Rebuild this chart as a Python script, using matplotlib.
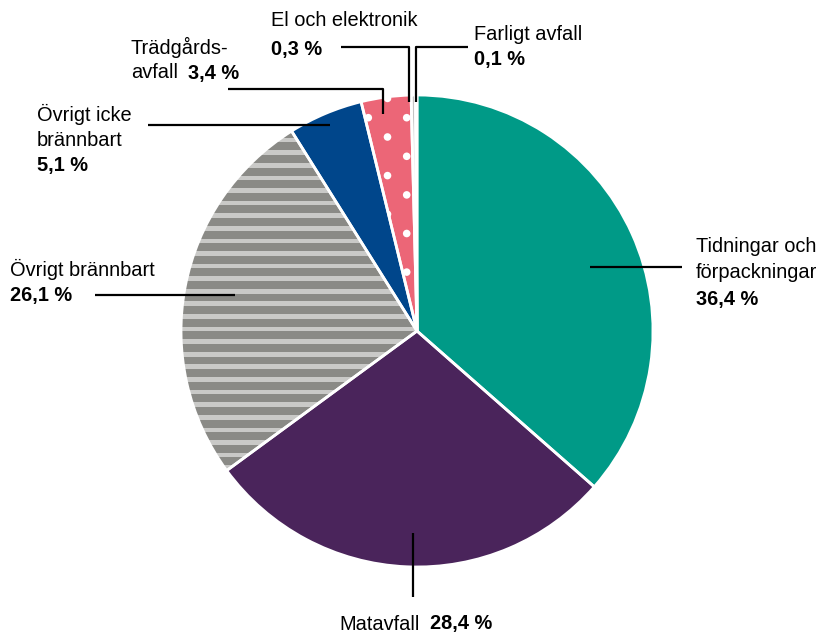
import matplotlib
matplotlib.use('Agg')
import matplotlib.pyplot as plt
from matplotlib.patches import Rectangle, Circle
import numpy as np

plt.rcParams['font.family'] = ['Liberation Sans', 'DejaVu Sans']

categories = ['Tidningar och förpackningar', 'Matavfall', 'Övrigt brännbart',
              'Övrigt icke brännbart', 'Trädgårdsavfall', 'El och elektronik',
              'Farligt avfall']
values = [36.4, 28.4, 26.1, 5.1, 3.4, 0.3, 0.1]
value_labels = ['36,4 %', '28,4 %', '26,1 %', '5,1 %', '3,4 %', '0,3 %', '0,1 %']
colors = ['#009a87', '#4a245b', '#8a8a86', '#00468b', '#ec6677', '#c4c4c4', '#555555']

W, H = 823, 632
fig = plt.figure(figsize=(W / 100, H / 100), dpi=100)
ax = fig.add_axes([0, 0, 1, 1])


def Y(y):
    return H - y


cx, cy, R = 417, Y(331), 236

wedges, _ = ax.pie(values, colors=colors, startangle=90, counterclock=False,
                   center=(cx, cy), radius=R, frame=True,
                   wedgeprops=dict(linewidth=0))

# stripes for "Övrigt brännbart"
gw = wedges[2]
for k in range(-20, 40):
    yc = 140 + 12.6 * k
    r = Rectangle((cx - R - 5, Y(yc) - 2.3), 2 * R + 10, 4.6,
                  facecolor='#c9c9c7', edgecolor='none', zorder=2)
    ax.add_patch(r)
    r.set_clip_path(gw)

# dots for "Trädgårdsavfall"
pw = wedges[4]
for i in range(-6, 8):
    for j in range(-4, 14):
        if (i + j) % 2 == 0:
            c = Circle((368.3 + 19.2 * i, Y(117.7 + 19.3 * j)), 3.8,
                       facecolor='white', edgecolor='none', zorder=2)
            ax.add_patch(c)
            c.set_clip_path(pw)

# white separators
ax.pie(values, colors=['none'] * len(values), startangle=90, counterclock=False,
       center=(cx, cy), radius=R, frame=True,
       wedgeprops=dict(linewidth=2, edgecolor='white', fill=False, zorder=3))
ax.set_xlim(0, W)
ax.set_ylim(0, H)
ax.set_aspect('equal')
ax.axis('off')

lw = 1.6
lk = dict(color='black', lw=lw, zorder=5, solid_capstyle='butt')
fs = 14.4

# Tidningar
ax.plot([590, 682], [Y(267), Y(267)], **lk)
ax.text(696, Y(247), 'Tidningar och', fontsize=fs, va='center', ha='left')
ax.text(696, Y(273), 'förpackningar', fontsize=fs, va='center', ha='left')
ax.text(696, Y(299), value_labels[0], fontsize=fs, va='center', ha='left', fontweight='bold')

# Matavfall
ax.plot([413, 413], [Y(533), Y(597)], **lk)
ax.text(339, Y(624), 'Matavfall', fontsize=fs, va='center', ha='left')
ax.text(430, Y(624), value_labels[1], fontsize=fs, va='center', ha='left', fontweight='bold')

# Övrigt brännbart
ax.plot([95, 235], [Y(295), Y(295)], **lk)
ax.text(10, Y(269), 'Övrigt brännbart', fontsize=fs, va='center', ha='left')
ax.text(10, Y(295), value_labels[2], fontsize=fs, va='center', ha='left', fontweight='bold')

# Övrigt icke brännbart
ax.plot([148, 330], [Y(125), Y(125)], **lk)
ax.text(37, Y(114), 'Övrigt icke', fontsize=fs, va='center', ha='left')
ax.text(37, Y(140), 'brännbart', fontsize=fs, va='center', ha='left')
ax.text(37, Y(166), value_labels[3], fontsize=fs, va='center', ha='left', fontweight='bold')

# Trädgårdsavfall
ax.plot([228, 383.5, 383.5], [Y(89), Y(89), Y(114)], **lk)
ax.text(131, Y(47), 'Trädgårds-', fontsize=fs, va='center', ha='left')
ax.text(131, Y(73), 'avfall', fontsize=fs, va='center', ha='left')
ax.text(188, Y(73), value_labels[4], fontsize=fs, va='center', ha='left', fontweight='bold')

# El och elektronik
ax.plot([341, 409.5, 409.5], [Y(47), Y(47), Y(102)], **lk)
ax.text(271, Y(21), 'El och elektronik', fontsize=fs, va='center', ha='left')
ax.text(271, Y(49), value_labels[5], fontsize=fs, va='center', ha='left', fontweight='bold')

# Farligt avfall
ax.plot([468, 416.5, 416.5], [Y(47), Y(47), Y(102)], **lk)
ax.text(474, Y(34), 'Farligt avfall', fontsize=fs, va='center', ha='left')
ax.text(474, Y(60), value_labels[6], fontsize=fs, va='center', ha='left', fontweight='bold')

fig.savefig('out.png', dpi=100)
